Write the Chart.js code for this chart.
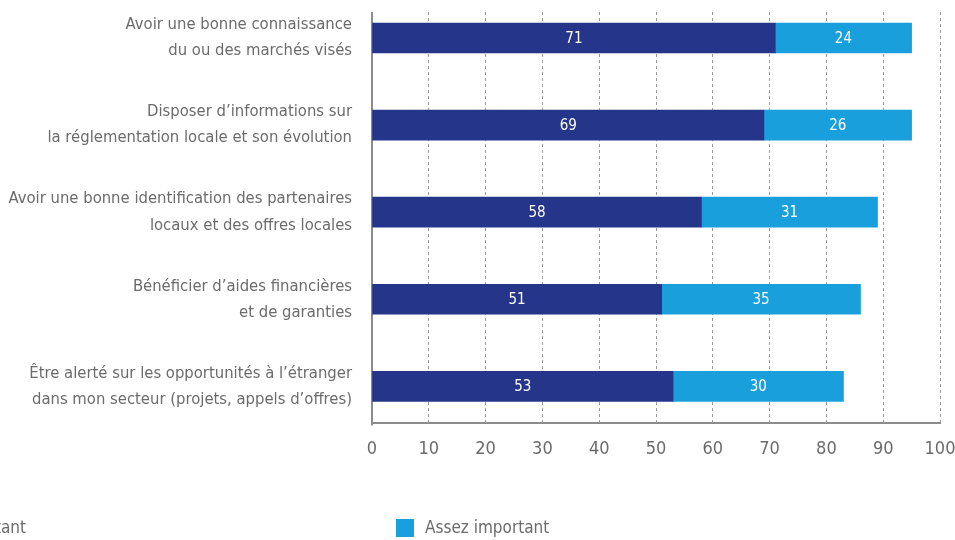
<!DOCTYPE html>
<html lang="fr">
<head>
<meta charset="utf-8">
<script src="https://cdn.jsdelivr.net/npm/chart.js@4"></script>
<style>
  html, body { margin: 0; padding: 0; background: #fff; }
  #wrap { position: relative; width: 955px; height: 540px; }
</style>
</head>
<body>
<div id="wrap"><canvas id="besoins"></canvas></div>
<script>
// Données du graphique
var categories = [
  ["Avoir une bonne connaissance", "du ou des marchés visés"],
  ["Disposer d\u2019informations sur", "la réglementation locale et son évolution"],
  ["Avoir une bonne identification des partenaires", "locaux et des offres locales"],
  ["Bénéficier d\u2019aides financières", "et de garanties"],
  ["Être alerté sur les opportunités à l\u2019étranger", "dans mon secteur (projets, appels d\u2019offres)"]
];
var tresImportant = [71, 69, 58, 51, 53];
var assezImportant = [24, 26, 31, 35, 30];
var seriesNames = ["Très important", "Assez important"];
var xTicks = [0, 10, 20, 30, 40, 50, 60, 70, 80, 90, 100];

var FONT = '"DejaVu Sans Condensed", "Liberation Sans Narrow", sans-serif';
var GREY = "#6b6b6b";
var DARK = "#25368a";
var LIGHT = "#19a0dc";

// étiquettes blanches au centre des barres
var valueLabels = {
  id: "valueLabels",
  afterDatasetsDraw: function (chart) {
    var ctx = chart.ctx;
    ctx.save();
    ctx.fillStyle = "#fff";
    ctx.font = "15px " + FONT;
    ctx.textAlign = "center";
    ctx.textBaseline = "middle";
    chart.data.datasets.forEach(function (ds, i) {
      chart.getDatasetMeta(i).data.forEach(function (bar, j) {
        var mid = (bar.x + bar.base) / 2;
        ctx.fillText(ds.data[j], mid, bar.y + 1);
      });
    });
    ctx.restore();
  }
};

// l'axe des catégories déborde un peu de la zone (espacement des barres comme l'original)
var stretchY = {
  id: "stretchY",
  afterLayout: function (chart) {
    var y = chart.scales.y;
    y.top = chart.chartArea.top - 5.5;
    y.bottom = chart.chartArea.bottom + 6.5;
    y.configure();
  }
};

// grilles et axe vertical entre y=12 et l'axe du bas
var clipTop = {
  id: "clipTop",
  beforeDraw: function (chart) {
    var ctx = chart.ctx;
    var b = chart.chartArea.bottom;
    ctx.save();
    ctx.beginPath();
    ctx.rect(0, 0, 362, chart.height);
    ctx.rect(362, 12, chart.width, b + 2 - 12);
    ctx.rect(362, b + 9, chart.width, chart.height);
    ctx.clip();
  },
  afterDraw: function (chart) {
    chart.ctx.restore();
  }
};

// légende en bas (première entrée coupée à gauche comme sur l'original)
var bottomLegend = {
  id: "bottomLegend",
  afterDraw: function (chart) {
    var items = Chart.defaults.plugins.legend.labels.generateLabels(chart);
    var ctx = chart.ctx;
    ctx.save();
    ctx.font = "17px " + FONT;
    ctx.textBaseline = "middle";
    var y = 528;
    // entrée 2
    var x2 = 396;
    ctx.fillStyle = items[1].fillStyle;
    ctx.fillRect(x2, y - 9, 18, 18);
    ctx.fillStyle = GREY;
    ctx.textAlign = "left";
    ctx.fillText(items[1].text, x2 + 29, y + 1);
    // entrée 1
    var w1 = ctx.measureText(items[0].text).width;
    var x1 = 26 - w1;
    ctx.fillStyle = items[0].fillStyle;
    ctx.fillRect(x1 - 29, y - 9, 18, 18);
    ctx.fillStyle = GREY;
    ctx.fillText(items[0].text, x1, y + 1);
    ctx.restore();
  }
};

var ctx = document.getElementById("besoins").getContext("2d");
var chart = new Chart(ctx, {
  type: "bar",
  data: {
    labels: categories,
    datasets: [
      {
        label: seriesNames[0],
        data: tresImportant,
        backgroundColor: DARK,
        barThickness: 30
      },
      {
        label: seriesNames[1],
        data: assezImportant,
        backgroundColor: LIGHT,
        barThickness: 30
      }
    ]
  },
  options: {
    indexAxis: "y",
    responsive: true,
    maintainAspectRatio: false,
    animation: false,
    layout: { padding: { top: 0, right: 15, bottom: 65, left: 0 } },
    plugins: {
      legend: { display: false },
      tooltip: { enabled: false }
    },
    scales: {
      x: {
        stacked: true,
        min: 0,
        max: 100,
        afterBuildTicks: function (scale) {
          scale.ticks = xTicks.map(function (v) { return { value: v }; });
        },
        afterFit: function (scale) {
          scale.paddingLeft = 0;
          scale.paddingRight = 0;
        },
        grid: {
          color: "#9a9a9a",
          lineWidth: 1,
          drawTicks: false
        },
        border: { display: true, color: "#8c8c8c", width: 2, dash: [3, 3] },
        ticks: {
          color: GREY,
          font: { family: FONT, size: 18 },
          padding: 15
        }
      },
      y: {
        stacked: true,
        afterFit: function (scale) {
          scale.width = 372;
          scale.paddingTop = 0;
          scale.paddingBottom = 0;
        },
        grid: { display: false, drawTicks: false },
        border: { display: true, color: "#8c8c8c", width: 2 },
        ticks: {
          color: GREY,
          font: { family: FONT, size: 16.5, lineHeight: 1.58 },
          padding: 20
        }
      }
    }
  },
  plugins: [stretchY, clipTop, valueLabels, bottomLegend]
});
</script>
</body>
</html>
